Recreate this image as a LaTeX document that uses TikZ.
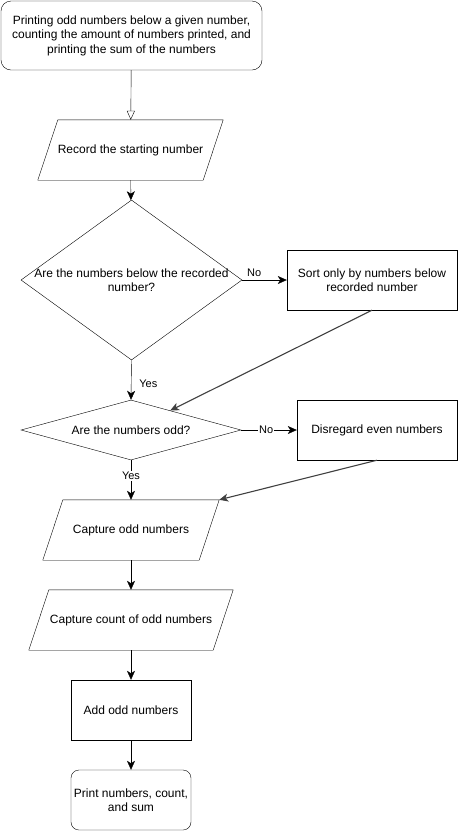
\documentclass[tikz,border=0pt]{standalone}
\usepackage{fontspec}
\setmainfont{Liberation Sans}
\usetikzlibrary{positioning,calc,arrows.meta,shapes.geometric}
\definecolor{linegray}{RGB}{64,64,64}

\begin{document}
\begin{tikzpicture}[x=1pt,y=-1pt,
    every node/.style={font=\fontsize{12}{14.5}\selectfont},
    terminal/.style={rectangle,draw,rounded corners=10pt,align=center,inner sep=0pt},
    process/.style={rectangle,draw,align=center,inner sep=0pt,minimum height=60pt},
    io/.style={rectangle,inner sep=0pt,minimum height=60pt},
    decision/.style={diamond,draw,inner sep=0pt},
    edgelabel/.style={font=\fontsize{11}{13}\selectfont,inner sep=1pt},
    flow/.style={-{Stealth[length=9pt,width=8pt,inset=2.5pt]}},
    back/.style={flow,draw=linegray,line width=0.5pt+0.6pt}
    ]
\useasboundingbox (0,0) rectangle (458,831);
% Boites du diagramme
\node[terminal,minimum width=261pt,minimum height=69pt] (start) at (131.5,35.5)
    {Printing odd numbers below a given number,\\counting the amount of numbers printed, and\\printing the sum of the numbers};
\node[io,minimum width=165pt] (record) at (130.5,150) {Record the starting number};
\node[decision,minimum width=221pt,minimum height=160pt,
    label={[align=center]center:Are the numbers below the recorded\\number?}] (below) at (131.5,280) {};
\node[process,minimum width=170pt] (sort) at (372,280) {Sort only by numbers below\\recorded number};
\node[decision,minimum width=220pt,minimum height=60pt,
    label={center:Are the numbers odd?}] (odd) at (131,430) {};
\node[process,minimum width=160pt] (even) at (377,430) {Disregard even numbers};
\node[io,minimum width=156pt] (capture) at (131,530) {Capture odd numbers};
\node[io,minimum width=184pt] (count) at (131,620) {Capture count of odd numbers};
\node[process,minimum width=120pt] (add) at (131,710) {Add odd numbers};
\node[terminal,minimum width=120pt,minimum height=60pt,rounded corners=8pt] (print) at (131,800)
    {Print numbers, count,\\and sum};

% Parallelogrammes des entrees/sorties
\foreach \n in {record,capture,count}
    \draw ([xshift=10pt]\n.north west) -- ([xshift=10pt]\n.north east)
        -- ([xshift=-10pt]\n.south east) -- ([xshift=-10pt]\n.south west) -- cycle;

% Connecteurs
\draw[-{Triangle[open,length=9pt,width=8pt]}] (start) -- (record);
\draw[flow] (record) -- (below);
\draw[flow] (below.east) -- node[edgelabel,pos=0.27,above=2pt] {No} (sort.west);
\draw[flow] (below.south) -- node[edgelabel,pos=0.6,right=7pt] {Yes} (odd.north);
\draw[back] (sort.south) -- (odd);
\draw[flow] (odd.east) -- node[edgelabel,pos=0.45,fill=white] {No} (even.west);
\draw[flow] (odd.south) -- node[edgelabel,pos=0.4,fill=white] {Yes} (capture.north);
\draw[back] (even.south) -- ([xshift=10pt]capture.north east);
\draw[flow] (capture) -- (count);
\draw[flow] (count) -- (add);
\draw[flow] (add) -- (print);
\end{tikzpicture}
\end{document}
